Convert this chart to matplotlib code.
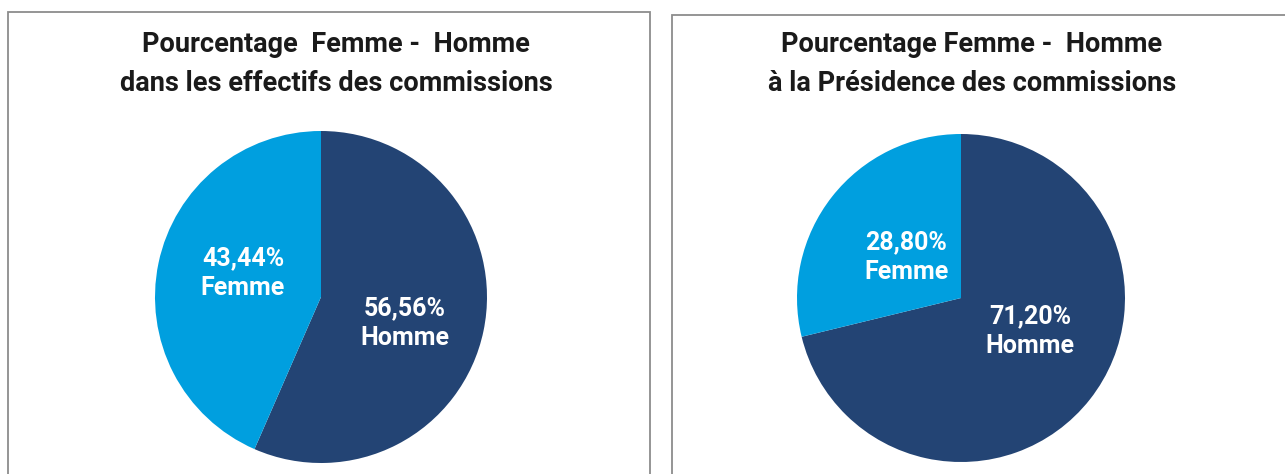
import matplotlib
matplotlib.use('Agg')
import matplotlib.pyplot as plt
from matplotlib.patches import Rectangle

plt.rcParams['font.family'] = ['Roboto', 'DejaVu Sans']

# données
categories = ['Homme', 'Femme']
effectifs = [56.56, 43.44]
presidence = [71.20, 28.80]
titre_effectifs = 'Pourcentage  Femme -  Homme\ndans les effectifs des commissions'
titre_presidence = 'Pourcentage Femme -  Homme\nà la Présidence des commissions'

couleurs = ['#234474', '#009FDF']

W, H = 1285, 474
fig = plt.figure(figsize=(W / 100, H / 100), dpi=100)

# cadres des deux graphiques
for x0, y0, x1 in [(8, 12, 650), (672, 15, 1300)]:
    fig.patches.append(Rectangle((x0 / W, -0.1), (x1 - x0) / W, 1.1 - y0 / H,
                                 transform=fig.transFigure, fill=False,
                                 edgecolor='#8c8c8c', linewidth=1.3))


def camembert(cx, cy, r, valeurs, titre, tx, pos):
    ax = fig.add_axes([(cx - r) / W, (H - cy - r) / H, 2 * r / W, 2 * r / H])
    ax.pie(valeurs, colors=couleurs, startangle=90, counterclock=False,
           radius=1, wedgeprops={'linewidth': 0})
    # étiquettes dans les parts
    for v, cat, (x, y) in zip(valeurs, categories, pos):
        txt = f'{v:.2f}%'.replace('.', ',') + '\n' + cat
        ax.text(x, y, txt, ha='center', va='center', color='white',
                fontsize=18, fontweight='bold', linespacing=1.3)
    ax.set_xlim(-1, 1)
    ax.set_ylim(-1, 1)
    ax.set_aspect('equal')
    ax.axis('off')
    fig.text(tx / W, 1 - 64 / H, titre, ha='center', va='center', fontsize=19.5,
             fontweight='bold', color='#1a1a1a', linespacing=1.55)


camembert(321, 297, 166, effectifs, titre_effectifs, 336,
          [(0.506, -0.157), (-0.47, 0.145)])
camembert(961, 298, 164, presidence, titre_presidence, 972,
          [(0.42, -0.2), (-0.335, 0.25)])

fig.savefig('out.png', dpi=100)
